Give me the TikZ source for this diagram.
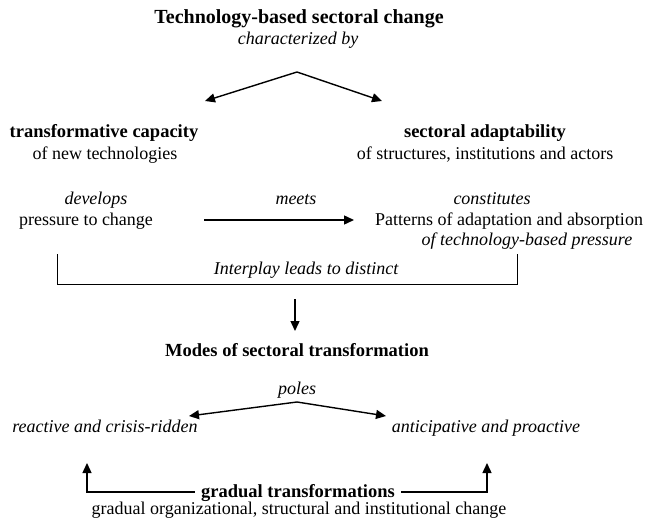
\documentclass[tikz,border=0pt]{standalone}
\usepackage{fontspec}
\setmainfont{Liberation Serif}
\usetikzlibrary{arrows.meta}
\begin{document}
\begin{tikzpicture}[x=1pt,y=-1pt,
  txt/.style={font=\fontsize{18}{21}\selectfont, inner sep=0pt, anchor=base},
  bf/.style={txt, font=\fontsize{18.5}{21}\selectfont\bfseries},
  it/.style={txt, font=\fontsize{18}{21}\selectfont\itshape},
  arr/.style={line width=1.4pt, -{Triangle[length=10pt,width=9pt]}},
  ln/.style={line width=0.9pt}]
\useasboundingbox (0,0) rectangle (646,519);
% top
\node[bf, font=\fontsize{20}{22}\selectfont\bfseries] (title) at (299,24) {Technology-based sectoral change};
\node[it] (char) at (298,45) {characterized by};
\coordinate (apexA) at (297,72);
\coordinate (tipAL) at (205,101);
\coordinate (tipAR) at (382,101);
\draw[arr] (apexA) -- (tipAL);
\draw[arr] (apexA) -- (tipAR);
% second row
\node[bf] (tcap) at (104,137) {transformative capacity};
\node[txt] (tnew) at (105,159) {of new technologies};
\node[bf] (sadapt) at (485,137) {sectoral adaptability};
\node[txt] (sstruct) at (485,159) {of structures, institutions and actors};
% third row
\node[it] (dev) at (96,204) {develops};
\node[txt] (press) at (86,225) {pressure to change};
\node[it] (meets) at (296,204) {meets};
\coordinate (mL) at (204,220);
\coordinate (mR) at (354,220);
\draw[arr] (mL) -- (mR);
\node[it] (const) at (492,204) {constitutes};
\node[txt] (patt) at (509,225) {Patterns of adaptation and absorption};
\node[it] (techp) at (527,245) {of technology-based pressure};
% bracket
\coordinate (bLt) at (57,254);
\coordinate (bLb) at (57,284);
\coordinate (bRb) at (517,284);
\coordinate (bRt) at (517,254);
\draw[ln] (bLt) -- (bLb) -- (bRb) -- (bRt);
\node[it] (inter) at (306,274) {Interplay leads to distinct};
\coordinate (dTop) at (295,299);
\coordinate (dBot) at (295,331);
\draw[arr] (dTop) -- (dBot);
% modes
\node[bf] (modes) at (297,356) {Modes of sectoral transformation};
\node[it] (poles) at (297,394) {poles};
\coordinate (apexB) at (297,402);
\coordinate (tipBL) at (189,416);
\coordinate (tipBR) at (386,416);
\draw[arr] (apexB) -- (tipBL);
\draw[arr] (apexB) -- (tipBR);
\node[it] (react) at (105,432) {reactive and crisis-ridden};
\node[it] (antic) at (486,432) {anticipative and proactive};
% gradual
\node[bf] (grad) at (298,497) {gradual transformations};
\node[txt] (gradorg) at (299,514) {gradual organizational, structural and institutional change};
\coordinate (gLc) at (87,492);
\coordinate (gLt) at (87,463);
\coordinate (gRc) at (487,492);
\coordinate (gRt) at (487,463);
\draw[arr] (grad.west |- gLc) ++(-6,0) -- (gLc) -- (gLt);
\draw[arr] (grad.east |- gRc) ++(6,0) -- (gRc) -- (gRt);
\end{tikzpicture}
\end{document}
